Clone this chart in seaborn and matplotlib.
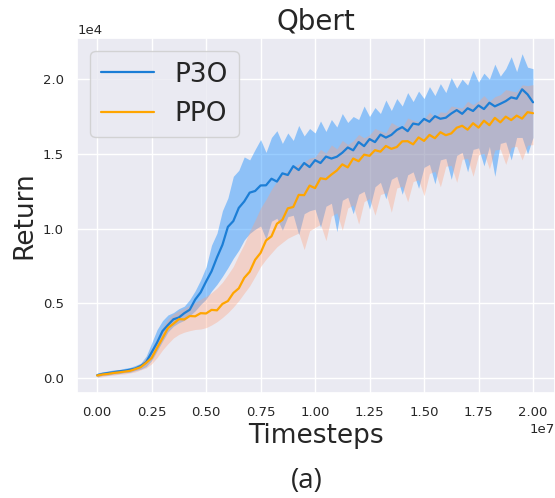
import numpy as np
import pandas as pd
import seaborn as sns
import matplotlib.pyplot as plt

# x grid: one point every 0.25M timesteps, 0 .. 20M
timesteps = np.linspace(0, 20_000_000, 81)

p3o_mean = [200, 290, 350, 400, 460, 500, 570, 650, 820, 1080,
            1720, 2380, 3150, 3560, 3940, 4060, 4350, 4580, 5260, 5740,
            6470, 7150, 8080, 8920, 10120, 10510, 11390, 11820, 12410, 12520,
            12890, 12900, 13340, 13150, 13700, 13590, 14180, 13920, 14390, 14120,
            14580, 14390, 14820, 14690, 14810, 15080, 15430, 15240, 15790, 15520,
            15990, 15790, 16290, 16090, 16270, 16600, 16790, 16520, 17030, 16960,
            17340, 17150, 17520, 17350, 17420, 17700, 17930, 17680, 18050, 17870,
            18240, 18000, 18420, 18180, 18350, 18530, 18780, 18690, 19320, 18980,
            18450]
p3o_upper = [350, 430, 480, 560, 580, 660, 720, 850, 1000, 1480,
             2350, 3250, 3850, 4230, 4390, 4650, 4820, 5260, 5850, 6580,
             7450, 8900, 9700, 11200, 12050, 13500, 13900, 14800, 14600, 15300,
             15960, 15100, 16100, 16550, 15700, 16400, 15900, 16900, 16200, 16700,
             16400, 17200, 16500, 17300, 16800, 17700, 17100, 17500, 17300, 18200,
             17500, 18100, 17700, 18600, 17900, 18700, 18200, 19100, 18500, 19200,
             18700, 19500, 18900, 19700, 19100, 20100, 19400, 20000, 19600, 20600,
             19800, 20400, 20000, 21000, 20200, 20700, 21500, 20500, 21700, 20800,
             20700]
p3o_lower = [80, 190, 200, 280, 300, 370, 390, 510, 600, 780,
             1180, 1820, 2470, 3100, 3480, 3710, 3870, 4180, 4510, 4930,
             5290, 5830, 6280, 6810, 7390, 8020, 8560, 9240, 9680, 9960,
             10180, 9300, 10500, 10700, 9900, 10800, 10900, 9600, 11000, 11200,
             11300, 10100, 11500, 11700, 9800, 11900, 12100, 11000, 12300, 12500,
             11300, 12800, 13100, 12000, 13300, 13500, 12300, 13600, 13800, 12700,
             14100, 14300, 13000, 14600, 14700, 13300, 14900, 15100, 13800, 15300,
             15400, 14200, 15500, 13500, 15700, 15800, 14600, 16100, 16100, 15000,
             16100]

ppo_mean = [180, 250, 290, 350, 390, 440, 490, 610, 740, 1030,
            1350, 2030, 2680, 3360, 3640, 3950, 3930, 4160, 4140, 4350,
            4330, 4570, 4540, 4970, 5160, 5700, 6010, 6710, 7120, 7920,
            8380, 9210, 9490, 10330, 10590, 11360, 11450, 12260, 12240, 12880,
            12710, 13370, 13310, 13620, 13890, 14300, 14100, 14690, 14510, 14950,
            14870, 15250, 15150, 15530, 15340, 15460, 15840, 15850, 15640, 16100,
            15870, 16270, 16050, 16450, 16250, 16370, 16750, 16880, 16620, 17050,
            16760, 17220, 16920, 17410, 17110, 17490, 17260, 17560, 17360, 17790,
            17720]
ppo_upper = [300, 360, 430, 470, 540, 570, 660, 760, 950, 1380,
             1980, 2680, 3390, 3980, 4310, 4520, 4680, 4880, 5060, 5290,
             5480, 5720, 6030, 6420, 6930, 7480, 8260, 8970, 9840, 10580,
             11380, 11960, 12630, 13180, 13640, 13870, 14120, 14330, 14460, 14720,
             14790, 15300, 15050, 15600, 15340, 15900, 15630, 15870, 16300, 16070,
             16280, 16700, 16530, 16410, 17100, 16890, 16760, 17400, 17250, 17160,
             17340, 17780, 17460, 17810, 17760, 18200, 18130, 18060, 18520, 18290,
             18540, 18900, 18510, 18830, 18960, 19300, 19210, 19140, 19620, 19560,
             19630]
ppo_lower = [60, 100, 180, 200, 270, 280, 350, 420, 560, 690,
             960, 1380, 1890, 2310, 2690, 2930, 3080, 3180, 3260, 3290,
             3380, 3560, 3780, 4060, 4380, 4760, 5190, 5690, 6180, 6810,
             7470, 7960, 8380, 8790, 9080, 9360, 9540, 9710, 8600, 9860,
             10080, 10290, 9200, 10840, 11060, 9900, 11380, 11590, 10300, 11810,
             12020, 10900, 12280, 12410, 11100, 12720, 12840, 11800, 13150, 13280,
             12200, 13690, 13840, 12800, 14180, 14230, 13100, 14640, 14710, 13500,
             14930, 15040, 14000, 15260, 15320, 14300, 15440, 15510, 14600, 15580,
             15620]

sns.set_theme(style="darkgrid")

fig = plt.figure(figsize=(5.55, 4.98), dpi=100)
ax = fig.add_axes([0.139, 0.211, 0.861, 0.713])

# P3O
ax.fill_between(timesteps, p3o_lower, p3o_upper, color="dodgerblue", alpha=0.45, linewidth=0)
sns.lineplot(x=timesteps, y=p3o_mean, color="#1c7ed6", linewidth=1.6, label="P3O", ax=ax)

# PPO
ax.fill_between(timesteps, ppo_lower, ppo_upper, color="lightsalmon", alpha=0.35, linewidth=0)
sns.lineplot(x=timesteps, y=ppo_mean, color="orange", linewidth=1.6, label="PPO", ax=ax)

ax.set_xlim(-917_000, 21_010_000)
ax.set_ylim(-983, 22760)
ax.set_xticks(np.arange(0, 2.01e7, 0.25e7))
ax.ticklabel_format(axis="both", style="sci", scilimits=(0, 0))
ax.tick_params(labelsize=9.5)
ax.xaxis.get_offset_text().set_fontsize(9.5)
ax.yaxis.get_offset_text().set_fontsize(9.5)

ax.set_title("Qbert", fontsize=20)
ax.set_xlabel("Timesteps", fontsize=19, labelpad=3)
ax.set_ylabel("Return", fontsize=19)
ax.legend(loc="upper left", fontsize=19)

fig.text(0.553, 0.02, "(a)", fontsize=20, family="Open Sans", ha="center")

fig.savefig("out.png", dpi=100)
